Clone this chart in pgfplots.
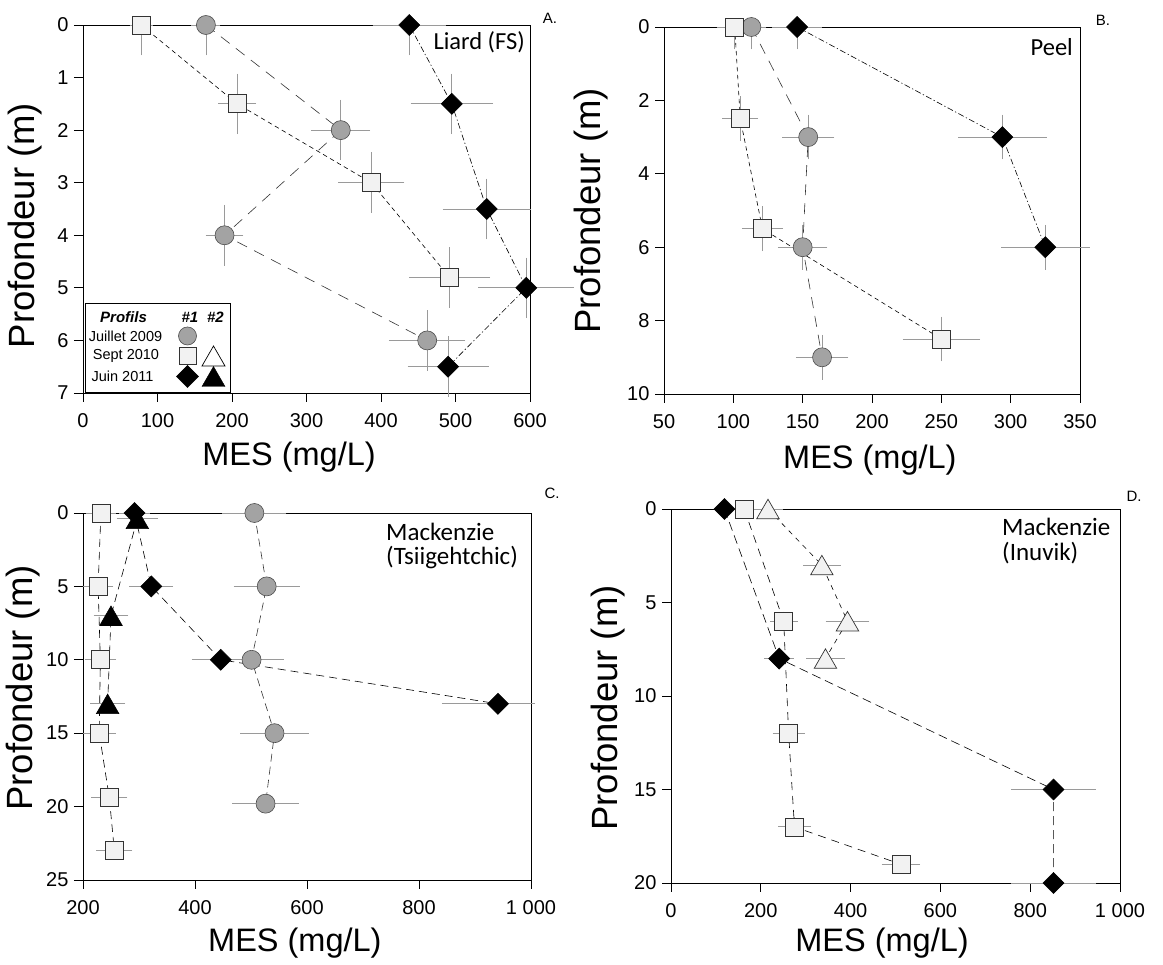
\documentclass[border=0pt]{standalone}
\usepackage{fontspec}
\setmainfont{Liberation Sans}
\newfontfamily\carlito{Carlito}
\usepackage{pgfplots}
\usepackage{pgfplotstable}
\pgfplotsset{compat=1.18}

\definecolor{errgray}{HTML}{9A9A9A}
\definecolor{circfill}{HTML}{A3A3A3}
\definecolor{sqfill}{HTML}{F2F2F2}

\pgfdeclareplotmark{ctri}{%
  \pgfpathmoveto{\pgfqpoint{0pt}{0.75\pgfplotmarksize}}%
  \pgfpathlineto{\pgfqpoint{0.866\pgfplotmarksize}{-0.75\pgfplotmarksize}}%
  \pgfpathlineto{\pgfqpoint{-0.866\pgfplotmarksize}{-0.75\pgfplotmarksize}}%
  \pgfpathclose\pgfusepathqfillstroke}
\pgfdeclareplotmark{sdiam}{%
  \pgfpathmoveto{\pgfqpoint{0pt}{\pgfplotmarksize}}%
  \pgfpathlineto{\pgfqpoint{\pgfplotmarksize}{0pt}}%
  \pgfpathlineto{\pgfqpoint{0pt}{-\pgfplotmarksize}}%
  \pgfpathlineto{\pgfqpoint{-\pgfplotmarksize}{0pt}}%
  \pgfpathclose\pgfusepathqfillstroke}

\pgfplotsset{
  panel/.style={scale only axis, y dir=reverse, clip=false,
    axis line style={line width=0.8pt},
    tick align=outside, tick pos=left, major tick length=9pt,
    tick style={black, line width=0.8pt},
    ticklabel style={font=\fontsize{20}{24}\selectfont},
    xticklabel style={yshift=-8pt},
    yticklabel style={xshift=-2pt},
    /pgf/number format/assume math mode=true,
    xlabel={MES (mg/L)}, ylabel={Profondeur (m)},
    xlabel style={font=\fontsize{32.5}{38}\selectfont, anchor=center},
    ylabel style={font=\fontsize{36.5}{42}\selectfont, anchor=center},
  },
  errb/.style={forget plot, draw=none, mark=none,
    error bars/.cd, x dir=both, y dir=both, x explicit, y explicit,
    error bar style={draw=errgray, line width=0.8pt, solid},
    error mark options={draw=errgray, mark size=4pt, line width=0.8pt, solid}},
  circ/.style={black!80, line width=0.6pt, mark=*, mark size=9.5pt,
    mark options={solid, fill=circfill, draw=black!70, line width=0.6pt}},
  sq/.style={black, line width=0.6pt, mark=square*, mark size=9pt,
    mark options={solid, fill=sqfill, draw=black!80, line width=0.7pt}},
  dia/.style={black, line width=0.6pt, mark=sdiam, mark size=10.5pt,
    mark options={solid, fill=black, draw=black}},
  btri/.style={black, line width=0.6pt, mark=ctri, mark size=13pt,
    mark options={solid, fill=black, draw=black}},
  wtri/.style={black, line width=0.6pt, mark=ctri, mark size=13pt,
    mark options={solid, fill=sqfill, draw=black!80, line width=0.7pt}},
  longdash/.style={dash pattern=on 11pt off 8pt},
  meddash/.style={dash pattern=on 8pt off 5pt},
  shortdash/.style={dash pattern=on 4.5pt off 3.5pt},
  dashdot/.style={dash pattern=on 6pt off 2.5pt on 1.2pt off 2.5pt},
}
\newcommand\errplot[1]{\addplot[errb] table[x=x,y=y,x error minus=xm,x error plus=xp,y error minus=ym,y error plus=yp]{#1};}
\newcommand\serplot[2]{\addplot[#1] table[x=x,y=y]{#2};}

% ---------------- Panel A : Liard (FS)
\pgfplotstableread{
x y xm xp ym yp
165 0 14 14 0 0.5
346 2 34 34 0.5 0.5
190 4 20 20 0.5 0.5
462 6 46 46 0.5 0.5
}\Acirc
\pgfplotstableread{
x y xm xp ym yp
78 0 10 10 0 0.5
207 1.5 20 20 0.5 0.5
387 3 39 39 0.5 0.5
492 4.8 49 49 0.5 0.5
}\Asq
\pgfplotstableread{
x y xm xp ym yp
438 0 44 44 0 0.5
495 1.5 50 50 0.5 0.5
542 3.5 54 54 0.5 0.5
595 5 59 59 0.5 0.5
490 6.5 49 49 0.5 0.5
}\Adia
% ---------------- Panel B : Peel
\pgfplotstableread{
x y xm xp ym yp
113 0 8 8 0 0.5
154 3 16 16 0.5 0.5
150 6 15 15 0.5 0.5
164 9 16 16 0.5 0.5
}\Bcirc
\pgfplotstableread{
x y xm xp ym yp
101 0 10 10 0 0.5
105 2.5 10 10 0.5 0.5
121 5.5 12 12 0.5 0.5
250 8.5 25 25 0.5 0.5
}\Bsq
\pgfplotstableread{
x y xm xp ym yp
146 0 15 15 0 0.5
294 3 29 29 0.5 0.5
325 6 29 29 0.5 0.5
}\Bdia
% ---------------- Panel C : Mackenzie (Tsiigehtchic)
\pgfplotstableread{
x y xm xp ym yp
506 0 50 50 0 0
528 5 52 52 0 0
501 10 50 50 0 0
542 15 54 54 0 0
526 19.8 52 52 0 0
}\Ccirc
\pgfplotstableread{
x y xm xp ym yp
232 0 20 20 0 0
227 5 20 20 0 0
231 10 21 21 0 0
229 15 22 22 0 0
247 19.4 25 25 0 0
256 23 25 25 0 0
}\Csq
\pgfplotstableread{
x y xm xp ym yp
292 0 20 20 0 0
322 5 32 32 0 0
446 10 45 45 0 0
941 13 93 59 0 0
}\Cdia
\pgfplotstableread{
x y xm xp ym yp
297 0.4 30 30 0 0
250 7 24 24 0 0
244 13 24 24 0 0
}\Ctri
% ---------------- Panel D : Mackenzie (Inuvik)
\pgfplotstableread{
x y xm xp ym yp
119 0 15 15 0 0.3
241 8 24 24 0.3 0.3
852 15 85 85 0.3 0.3
852 20 86 86 0.3 0
}\Ddia
\pgfplotstableread{
x y xm xp ym yp
163 0 20 20 0 0
251 6 22 22 0.3 0.3
262 12 27 27 0.3 0.3
275 17 27 27 0.3 0.3
512 19 34 34 0.3 0.3
}\Dsq
\pgfplotstableread{
x y xm xp ym yp
216 0 25 25 0 0
336 3 33 33 0 0
393 6 40 40 0 0
344 8 34 34 0 0
}\Dtri

\begin{document}
\begin{tikzpicture}
\path[use as bounding box] (0,0) rectangle (1163pt,965pt);

% ===== A =====
\begin{axis}[panel, name=A, at={(83pt,572pt)}, anchor=south west, width=447pt, height=368pt,
  xmin=0, xmax=600, ymin=0, ymax=7, xtick={0,100,...,600}, ytick={0,1,...,7},
  xlabel style={at={(axis description cs:0.461,-0.174)}},
  ylabel style={at={(axis description cs:-0.130,0.455)}}]
  \errplot{\Acirc}\errplot{\Asq}\errplot{\Adia}
  \serplot{circ,longdash}{\Acirc}
  \serplot{sq,shortdash}{\Asq}
  \serplot{dia,dashdot}{\Adia}
\end{axis}

% ===== B =====
\begin{axis}[panel, name=B, at={(664pt,571pt)}, anchor=south west, width=416pt, height=367pt,
  xmin=50, xmax=350, ymin=0, ymax=10, xtick={50,100,...,350}, ytick={0,2,...,10},
  xlabel style={at={(axis description cs:0.495,-0.180)}},
  ylabel style={at={(axis description cs:-0.175,0.499)}}]
  \errplot{\Bcirc}\errplot{\Bsq}\errplot{\Bdia}
  \serplot{circ,longdash}{\Bcirc}
  \serplot{sq,shortdash}{\Bsq}
  \serplot{dia,dashdot}{\Bdia}
\end{axis}

% ===== C =====
\begin{axis}[panel, name=C, at={(83pt,85pt)}, anchor=south west, width=448pt, height=367pt,
  xmin=200, xmax=1000, ymin=0, ymax=25, xtick={200,400,...,1000},
  xticklabels={200,400,600,800,1 000}, ytick={0,5,...,25},
  xlabel style={at={(axis description cs:0.473,-0.172)}},
  ylabel style={at={(axis description cs:-0.134,0.523)}}]
  \errplot{\Ccirc}\errplot{\Csq}\errplot{\Cdia}\errplot{\Ctri}
  \serplot{circ,meddash}{\Ccirc}
  \serplot{sq,meddash}{\Csq}
  \serplot{dia,meddash}{\Cdia}
  \serplot{btri,meddash}{\Ctri}
\end{axis}

% ===== D =====
\begin{axis}[panel, name=D, at={(671pt,82pt)}, anchor=south west, width=449pt, height=374pt,
  xmin=0, xmax=1000, ymin=0, ymax=20, xtick={0,200,...,1000},
  xticklabels={0,200,400,600,800,1 000}, ytick={0,5,...,20},
  xlabel style={at={(axis description cs:0.470,-0.160)}},
  ylabel style={at={(axis description cs:-0.140,0.468)}}]
  \errplot{\Ddia}\errplot{\Dsq}\errplot{\Dtri}
  \serplot{dia,dash pattern=on 9pt off 5pt}{\Ddia}
  \serplot{sq,dash pattern=on 8pt off 6pt}{\Dsq}
  \serplot{wtri,dash pattern=on 5pt off 5pt}{\Dtri}
\end{axis}

% ===== panel titles =====
\node[anchor=east, inner sep=0, font=\carlito\fontsize{24.5}{29}\selectfont] at (525pt,923pt) {Liard (FS)};
\node[inner sep=0, font=\fontsize{15}{18}\selectfont] at (550pt,947pt) {A.};
\node[anchor=east, inner sep=0, font=\carlito\fontsize{24.5}{29}\selectfont] at (1073pt,918pt) {Peel};
\node[inner sep=0, font=\fontsize{15}{18}\selectfont] at (1103pt,945pt) {B.};
\node[anchor=west, inner sep=0, font=\carlito\fontsize{25}{30}\selectfont] at (386pt,433pt) {Mackenzie};
\node[anchor=west, inner sep=0, font=\carlito\fontsize{25}{30}\selectfont] at (386pt,407pt) {(Tsiigehtchic)};
\node[inner sep=0, font=\fontsize{15}{18}\selectfont] at (552pt,472pt) {C.};
\node[anchor=west, inner sep=0, font=\carlito\fontsize{25}{30}\selectfont] at (1002pt,438pt) {Mackenzie};
\node[anchor=west, inner sep=0, font=\carlito\fontsize{25}{30}\selectfont] at (1002pt,412pt) {(Inuvik)};
\node[inner sep=0, font=\fontsize{15}{18}\selectfont] at (1134pt,469pt) {D.};

% ===== legend (panel A) =====
\draw[black, line width=0.7pt, fill=white] (85pt,573pt) rectangle (230pt,662pt);
\node[inner sep=0, font=\bfseries\itshape\fontsize{15}{18}\selectfont] at (123.5pt,648pt) {Profils};
\node[inner sep=0, font=\bfseries\itshape\fontsize{15}{18}\selectfont] at (190pt,648pt) {\#1};
\node[inner sep=0, font=\bfseries\itshape\fontsize{15}{18}\selectfont] at (215.5pt,648pt) {\#2};
\node[inner sep=0, font=\fontsize{14.5}{17}\selectfont] at (125.5pt,629pt) {Juillet 2009};
\node[inner sep=0, font=\fontsize{14.5}{17}\selectfont] at (126pt,609pt) {Sept 2010};
\node[inner sep=0, font=\fontsize{14.5}{17}\selectfont] at (122.5pt,588.5pt) {Juin 2011};
\draw[fill=circfill, draw=black!70, line width=0.6pt] (187.5pt,629pt) circle (9pt);
\draw[fill=sqfill, draw=black!80, line width=0.7pt] (179.5pt,600.5pt) rectangle (196.5pt,617.5pt);
\draw[fill=white, draw=black, line width=0.7pt] (213.5pt,619pt) -- (225pt,599pt) -- (202pt,599pt) -- cycle;
\draw[fill=black] (187.5pt,599.5pt) -- (198.5pt,588.5pt) -- (187.5pt,577.5pt) -- (176.5pt,588.5pt) -- cycle;
\draw[fill=black] (213.5pt,598.5pt) -- (225pt,578.5pt) -- (202pt,578.5pt) -- cycle;
\end{tikzpicture}
\end{document}
